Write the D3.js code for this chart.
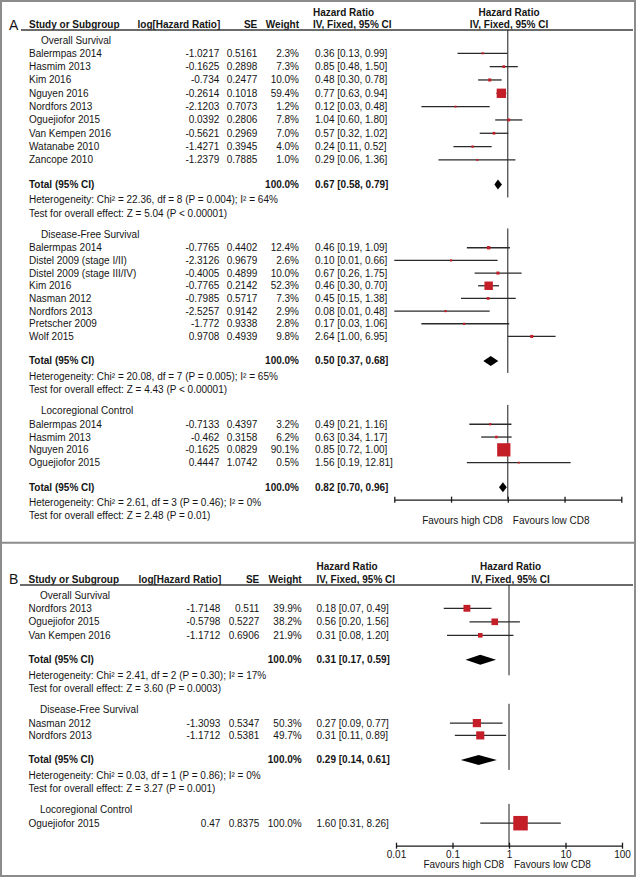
<!DOCTYPE html>
<html><head><meta charset="utf-8">
<script src="https://cdn.jsdelivr.net/npm/d3@7"></script>
<style>
body{margin:0;background:#fff}
svg{display:block}
text{font-family:"Liberation Sans",Arial,sans-serif;font-size:10px;fill:#151515}
</style>
</head><body><svg id="chart" width="637" height="878"></svg>
<script>
// ---------------- DATA ----------------
const subgroupNames = ["Overall Survival", "Disease-Free Survival", "Locoregional Control"];

const studiesA_OS = [
  {study:"Balermpas 2014", logHR:"-1.0217", se:"0.5161", weight:2.3, hr:0.36, lo:0.13, hi:0.99},
  {study:"Hasmim 2013", logHR:"-0.1625", se:"0.2898", weight:7.3, hr:0.85, lo:0.48, hi:1.50},
  {study:"Kim 2016", logHR:"-0.734", se:"0.2477", weight:10.0, hr:0.48, lo:0.30, hi:0.78},
  {study:"Nguyen 2016", logHR:"-0.2614", se:"0.1018", weight:59.4, hr:0.77, lo:0.63, hi:0.94},
  {study:"Nordfors 2013", logHR:"-2.1203", se:"0.7073", weight:1.2, hr:0.12, lo:0.03, hi:0.48},
  {study:"Oguejiofor 2015", logHR:"0.0392", se:"0.2806", weight:7.8, hr:1.04, lo:0.60, hi:1.80},
  {study:"Van Kempen 2016", logHR:"-0.5621", se:"0.2969", weight:7.0, hr:0.57, lo:0.32, hi:1.02},
  {study:"Watanabe 2010", logHR:"-1.4271", se:"0.3945", weight:4.0, hr:0.24, lo:0.11, hi:0.52},
  {study:"Zancope 2010", logHR:"-1.2379", se:"0.7885", weight:1.0, hr:0.29, lo:0.06, hi:1.36}
];
const studiesA_DFS = [
  {study:"Balermpas 2014", logHR:"-0.7765", se:"0.4402", weight:12.4, hr:0.46, lo:0.19, hi:1.09},
  {study:"Distel 2009 (stage I/II)", logHR:"-2.3126", se:"0.9679", weight:2.6, hr:0.10, lo:0.01, hi:0.66},
  {study:"Distel 2009 (stage III/IV)", logHR:"-0.4005", se:"0.4899", weight:10.0, hr:0.67, lo:0.26, hi:1.75},
  {study:"Kim 2016", logHR:"-0.7765", se:"0.2142", weight:52.3, hr:0.46, lo:0.30, hi:0.70},
  {study:"Nasman 2012", logHR:"-0.7985", se:"0.5717", weight:7.3, hr:0.45, lo:0.15, hi:1.38},
  {study:"Nordfors 2013", logHR:"-2.5257", se:"0.9142", weight:2.9, hr:0.08, lo:0.01, hi:0.48},
  {study:"Pretscher 2009", logHR:"-1.772", se:"0.9338", weight:2.8, hr:0.17, lo:0.03, hi:1.06},
  {study:"Wolf 2015", logHR:"0.9708", se:"0.4939", weight:9.8, hr:2.64, lo:1.00, hi:6.95}
];
const studiesA_LRC = [
  {study:"Balermpas 2014", logHR:"-0.7133", se:"0.4397", weight:3.2, hr:0.49, lo:0.21, hi:1.16},
  {study:"Hasmim 2013", logHR:"-0.462", se:"0.3158", weight:6.2, hr:0.63, lo:0.34, hi:1.17},
  {study:"Nguyen 2016", logHR:"-0.1625", se:"0.0829", weight:90.1, hr:0.85, lo:0.72, hi:1.00},
  {study:"Oguejiofor 2015", logHR:"0.4447", se:"1.0742", weight:0.5, hr:1.56, lo:0.19, hi:12.81}
];
const totalsA = [
  {hr:0.67, lo:0.58, hi:0.79, het:"Heterogeneity: Chi² = 22.36, df = 8 (P = 0.004); I² = 64%", test:"Test for overall effect: Z = 5.04 (P < 0.00001)"},
  {hr:0.50, lo:0.37, hi:0.68, het:"Heterogeneity: Chi² = 20.08, df = 7 (P = 0.005); I² = 65%", test:"Test for overall effect: Z = 4.43 (P < 0.00001)"},
  {hr:0.82, lo:0.70, hi:0.96, het:"Heterogeneity: Chi² = 2.61, df = 3 (P = 0.46); I² = 0%", test:"Test for overall effect: Z = 2.48 (P = 0.01)"}
];

const studiesB_OS = [
  {study:"Nordfors 2013", logHR:"-1.7148", se:"0.511", weight:39.9, hr:0.18, lo:0.07, hi:0.49},
  {study:"Oguejiofor 2015", logHR:"-0.5798", se:"0.5227", weight:38.2, hr:0.56, lo:0.20, hi:1.56},
  {study:"Van Kempen 2016", logHR:"-1.1712", se:"0.6906", weight:21.9, hr:0.31, lo:0.08, hi:1.20}
];
const studiesB_DFS = [
  {study:"Nasman 2012", logHR:"-1.3093", se:"0.5347", weight:50.3, hr:0.27, lo:0.09, hi:0.77},
  {study:"Nordfors 2013", logHR:"-1.1712", se:"0.5381", weight:49.7, hr:0.31, lo:0.11, hi:0.89}
];
const studiesB_LRC = [
  {study:"Oguejiofor 2015", logHR:"0.47", se:"0.8375", weight:100.0, hr:1.60, lo:0.31, hi:8.26}
];
const totalsB = [
  {hr:0.31, lo:0.17, hi:0.59, het:"Heterogeneity: Chi² = 2.41, df = 2 (P = 0.30); I² = 17%", test:"Test for overall effect: Z = 3.60 (P = 0.0003)"},
  {hr:0.29, lo:0.14, hi:0.61, het:"Heterogeneity: Chi² = 0.03, df = 1 (P = 0.86); I² = 0%", test:"Test for overall effect: Z = 3.27 (P = 0.001)"},
  null
];

const tickValues = [0.01, 0.1, 1, 10, 100];
const tickLabels = ["0.01", "0.1", "1", "10", "100"];
const favourLeft = "Favours high CD8";
const favourRight = "Favours low CD8";
const colHeaders = {study:"Study or Subgroup", logHR:"log[Hazard Ratio]", se:"SE", weight:"Weight", hr1:"Hazard Ratio", hr2:"IV, Fixed, 95% CI"};

// ---------------- DRAWING ----------------
const svg = d3.select("#chart");
const RED = "#c41f28";
const f2 = d3.format(".2f");
const ciText = d => `${f2(d.hr)} [${f2(d.lo)}, ${f2(d.hi)}]`;
const boxSize = d3.scaleLinear().domain([0, 100]).range([1.8, 14.5]);

// frame
svg.append("rect").attr("x", 1).attr("y", 1).attr("width", 634).attr("height", 875)
  .attr("fill", "none").attr("stroke", "#8c8c8c").attr("stroke-width", 2);
svg.append("line").attr("x1", 0).attr("x2", 636).attr("y1", 542.7).attr("y2", 542.7)
  .attr("stroke", "#8c8c8c").attr("stroke-width", 2);

function drawPanel(cfg) {
  const g = svg.append("g");
  const x = d3.scaleLog().domain([0.01, 100]).range(cfg.xRange);
  const x1 = x(1);
  const c = cfg.cols;

  // headers
  g.append("text").attr("x", cfg.letterX).attr("y", cfg.head2Y).attr("dy", "0.36em")
    .style("font-size", "14px").text(cfg.letter);
  const hb = (t, xx, yy, anchor) => g.append("text").attr("x", xx).attr("y", yy).attr("dy", "0.35em")
    .attr("text-anchor", anchor).style("font-weight", "bold").text(t);
  hb(colHeaders.study, c.study, cfg.head2Y, "start");
  hb(colHeaders.logHR, c.logHR + 1, cfg.head2Y, "end");
  hb(colHeaders.se, c.se, cfg.head2Y, "end");
  hb(colHeaders.weight, c.weight, cfg.head2Y, "end");
  hb(colHeaders.hr1, c.hrHead, cfg.head1Y, "start");
  hb(colHeaders.hr2, c.hrHead, cfg.head2Y, "start");
  hb(colHeaders.hr1, cfg.plotHeadX, cfg.head1Y, "middle");
  hb(colHeaders.hr2, cfg.plotHeadX, cfg.head2Y, "middle");
  g.append("line").attr("x1", cfg.underlineX).attr("x2", 633).attr("y1", cfg.underlineY).attr("y2", cfg.underlineY)
    .attr("stroke", "#3a3a3a").attr("stroke-width", 1.4);

  // layout
  const adv = {firstRow: 13.3, total: 24.5, het: 15.3, test: 13.4, nextHeader: 21.3};
  let y = cfg.firstHeaderY;
  const layout = [];
  cfg.groups.forEach((grp, gi) => {
    if (gi > 0) y += adv.nextHeader;
    const L = {headerY: y, rowYs: []};
    grp.rows.forEach((r, i) => { y += (i === 0 ? adv.firstRow : cfg.steps[gi]); L.rowYs.push(y); });
    if (grp.total) {
      y += adv.total; L.totalY = y;
      y += adv.het; L.hetY = y;
      y += adv.test; L.testY = y;
    }
    layout.push(L);
  });
  const lastL = layout[layout.length - 1];
  const axisY = lastL.totalY !== undefined ? lastL.totalY + 12.5 : lastL.rowYs[lastL.rowYs.length - 1] + 22.5;

  cfg.groups.forEach((grp, gi) => {
    const L = layout[gi];
    // null line
    const ys = gi === 0 ? cfg.underlineY : L.headerY - 6;
    const ye = gi === cfg.groups.length - 1 ? axisY : L.totalY + cfg.nullTail[gi];
    g.append("line").attr("x1", x1).attr("x2", x1).attr("y1", ys).attr("y2", ye)
      .attr("stroke", "#1a1a1a").attr("stroke-width", 1);

    g.append("text").attr("x", c.sub).attr("y", L.headerY).attr("dy", "0.35em").text(grp.name);

    const rows = g.selectAll(null).data(grp.rows.map((d, i) => ({...d, y: L.rowYs[i]}))).enter().append("g");
    rows.append("text").attr("x", c.study).attr("y", d => d.y).attr("dy", "0.35em").text(d => d.study);
    rows.append("text").attr("x", c.logHR).attr("y", d => d.y).attr("dy", "0.35em").attr("text-anchor", "end").text(d => d.logHR);
    rows.append("text").attr("x", c.se).attr("y", d => d.y).attr("dy", "0.35em").attr("text-anchor", "end").text(d => d.se);
    rows.append("text").attr("x", c.weight).attr("y", d => d.y).attr("dy", "0.35em").attr("text-anchor", "end").text(d => d.weight.toFixed(1) + "%");
    rows.append("text").attr("x", c.hr).attr("y", d => d.y).attr("dy", "0.35em").text(ciText);
    rows.append("line").attr("x1", d => x(d.lo)).attr("x2", d => x(d.hi)).attr("y1", d => d.y).attr("y2", d => d.y)
      .attr("stroke", "#2a2a2a").attr("stroke-width", 1.3);
    rows.append("rect").attr("x", d => x(d.hr) - boxSize(d.weight) / 2).attr("y", d => d.y - boxSize(d.weight) / 2)
      .attr("width", d => boxSize(d.weight)).attr("height", d => boxSize(d.weight)).attr("fill", RED);

    if (grp.total) {
      const t = grp.total, ty = L.totalY;
      g.append("text").attr("x", c.study).attr("y", ty).attr("dy", "0.35em").style("font-weight", "bold").text("Total (95% CI)");
      g.append("text").attr("x", c.weight).attr("y", ty).attr("dy", "0.35em").attr("text-anchor", "end").style("font-weight", "bold").text("100.0%");
      g.append("text").attr("x", c.hr).attr("y", ty).attr("dy", "0.35em").style("font-weight", "bold").text(ciText(t));
      const h = 5;
      g.append("path").attr("d", `M${x(t.lo)},${ty} L${x(t.hr)},${ty - h} L${x(t.hi)},${ty} L${x(t.hr)},${ty + h} Z`).attr("fill", "#000");
      g.append("text").attr("x", c.study).attr("y", L.hetY).attr("dy", "0.35em").text(t.het);
      g.append("text").attr("x", c.study).attr("y", L.testY).attr("dy", "0.35em").text(t.test);
    }
  });

  // axis
  const axis = d3.axisBottom(x).tickValues(tickValues).tickSizeInner(6).tickSizeOuter(0).tickPadding(5)
    .tickFormat((d, i) => cfg.showTickLabels ? tickLabels[i] : "");
  const ag = g.append("g").attr("transform", `translate(0,${axisY})`).call(axis);
  ag.select(".domain").attr("stroke", "#1a1a1a").attr("stroke-width", 1.3);
  ag.selectAll(".tick line").attr("y1", -3).attr("y2", 3).attr("stroke", "#1a1a1a").attr("stroke-width", 1.3);
  ag.selectAll(".tick text").attr("y", 8.6).attr("dy", "0.35em");
  g.append("text").attr("x", x1 - 5).attr("y", axisY + cfg.favourDy).attr("dy", "0.35em").attr("text-anchor", "end").text(favourLeft);
  g.append("text").attr("x", x1 + 5).attr("y", axisY + cfg.favourDy).attr("dy", "0.35em").attr("text-anchor", "start").text(favourRight);
}

drawPanel({
  letter: "A", letterX: 9, head1Y: 12, head2Y: 24.7, underlineY: 30, underlineX: 21,
  xRange: [394.3, 621.3], plotHeadX: 509,
  cols: {study: 29, sub: 41, logHR: 219.3, se: 257.3, weight: 299, hr: 315, hrHead: 313},
  firstHeaderY: 40, steps: [13.33, 12.67, 12.8], nullTail: [13, 12, 12],
  groups: subgroupNames.map((n, i) => ({name: n, rows: [studiesA_OS, studiesA_DFS, studiesA_LRC][i], total: totalsA[i]})),
  showTickLabels: false, favourDy: 21
});
drawPanel({
  letter: "B", letterX: 9, head1Y: 566, head2Y: 579.3, underlineY: 585, underlineX: 20,
  xRange: [396, 622], plotHeadX: 510.5,
  cols: {study: 28.5, sub: 40, logHR: 220.3, se: 259.3, weight: 301.7, hr: 316.5, hrHead: 316.5},
  firstHeaderY: 595, steps: [13.5, 12.3, 13], nullTail: [15.5, 10, 10],
  groups: subgroupNames.map((n, i) => ({name: n, rows: [studiesB_OS, studiesB_DFS, studiesB_LRC][i], total: totalsB[i]})),
  showTickLabels: true, favourDy: 18.8
});
</script>
</body></html>
